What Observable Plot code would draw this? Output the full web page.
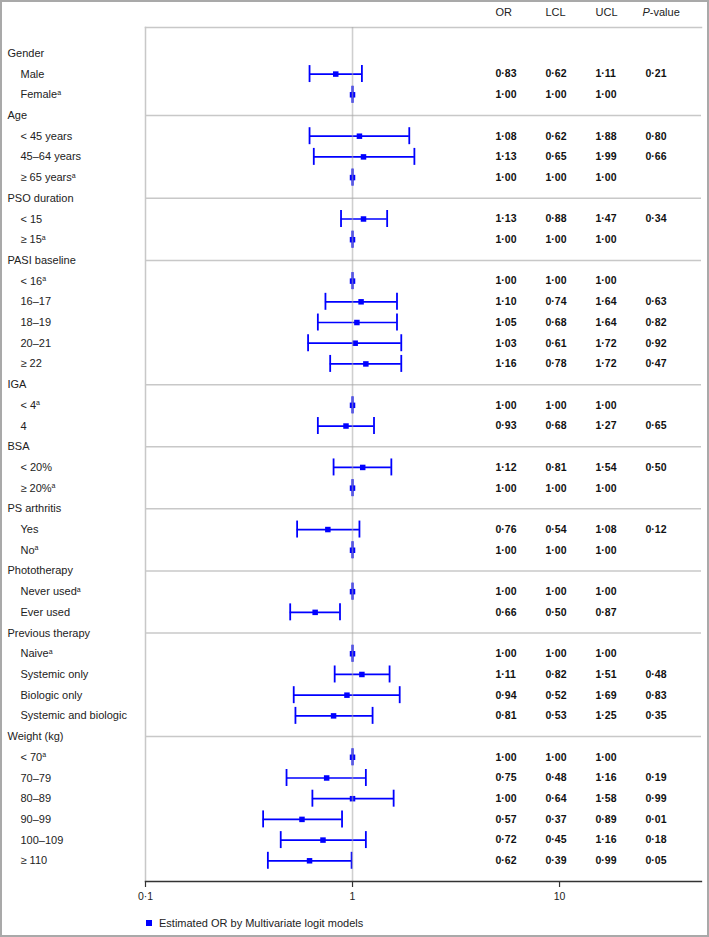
<!DOCTYPE html>
<html><head><meta charset="utf-8">
<script src="https://cdn.jsdelivr.net/npm/d3@7"></script>
<script src="https://cdn.jsdelivr.net/npm/@observablehq/plot@0.6"></script>
<style>
html,body{margin:0;padding:0;background:#fff;}
#page{position:relative;width:709px;height:937px;overflow:hidden;font-family:'Liberation Sans',Arial,sans-serif;background:#fff;}
#border{position:absolute;left:0;top:0;width:709px;height:937px;box-sizing:border-box;border:2px solid #a9a9a9;pointer-events:none;}
#legend{display:flex;align-items:center;height:14px;margin-top:4px;padding-left:146px;font-size:11px;color:#222;}
#legend .sw{display:inline-block;width:6px;height:6px;background:#0000ff;margin-right:7px;}
</style></head>
<body>
<div id="page">
  <div id="chart"></div>
  <div id="legend"><span class="sw"></span><span>Estimated OR by Multivariate logit models</span></div>
  <div id="border"></div>
</div>
<script>
// ---- data ----
const groups = ["Gender", "Age", "PSO duration", "PASI baseline", "IGA", "BSA",
  "PS arthritis", "Phototherapy", "Previous therapy", "Weight (kg)"];
const rowGroup = [0,0, 1,1,1, 2,2, 3,3,3,3,3, 4,4, 5,5, 6,6, 7,7, 8,8,8,8, 9,9,9,9,9,9];
const rowLabels = ["Male", "Female",
  "< 45 years", "45\u201364 years", "\u2265 65 years",
  "< 15", "\u2265 15",
  "< 16", "16\u201317", "18\u201319", "20\u201321", "\u2265 22",
  "< 4", "4",
  "< 20%", "\u2265 20%",
  "Yes", "No",
  "Never used", "Ever used",
  "Naive", "Systemic only", "Biologic only", "Systemic and biologic",
  "< 70", "70\u201379", "80\u201389", "90\u201399", "100\u2013109", "\u2265 110"];
const isReference = [false,true, false,false,true, false,true, true,false,false,false,false,
  true,false, false,true, false,true, true,false, true,false,false,false,
  true,false,false,false,false,false];
const orValues  = [0.83,1.00, 1.08,1.13,1.00, 1.13,1.00, 1.00,1.10,1.05,1.03,1.16, 1.00,0.93, 1.12,1.00, 0.76,1.00, 1.00,0.66, 1.00,1.11,0.94,0.81, 1.00,0.75,1.00,0.57,0.72,0.62];
const lclValues = [0.62,1.00, 0.62,0.65,1.00, 0.88,1.00, 1.00,0.74,0.68,0.61,0.78, 1.00,0.68, 0.81,1.00, 0.54,1.00, 1.00,0.50, 1.00,0.82,0.52,0.53, 1.00,0.48,0.64,0.37,0.45,0.39];
const uclValues = [1.11,1.00, 1.88,1.99,1.00, 1.47,1.00, 1.00,1.64,1.64,1.72,1.72, 1.00,1.27, 1.54,1.00, 1.08,1.00, 1.00,0.87, 1.00,1.51,1.69,1.25, 1.00,1.16,1.58,0.89,1.16,0.99];
const pValues   = [0.21,null, 0.80,0.66,null, 0.34,null, null,0.63,0.82,0.92,0.47, null,0.65, 0.50,null, 0.12,null, null,null, null,0.48,0.83,0.35, null,0.19,0.99,0.01,0.18,0.05];
const headers = ["OR", "LCL", "UCL", "P-value"];
const xTicks = [0.1, 1, 10];

// ---- build tables ----
const fmt = v => v == null ? "" : d3.format(".2f")(v).replace(".", "\u00b7");
const groupRows = [];
const items = [];
let row = 0, prev = -1;
rowGroup.forEach((g, i) => {
  if (g !== prev) { groupRows.push({row: row++, label: groups[g], g}); prev = g; }
  items.push({row: row++, label: rowLabels[i], ref: isReference[i],
    or: orValues[i], lcl: lclValues[i], ucl: uclValues[i], p: pValues[i]});
});
const lastRow = row; // axis position (in row units)

const blue = "#0000ff";
const SUP = "\u2060";
const colDx = [350, 400, 450, 500];

const chart = Plot.plot({
  width: 709,
  height: 912,
  marginLeft: 145,
  marginRight: 8,
  marginTop: 27,
  marginBottom: 31,
  style: {fontFamily: "'Liberation Sans', Arial, sans-serif", fontSize: "11px", color: "#222", background: "transparent", overflow: "visible"},
  x: {type: "log", domain: [0.1, 48.5]},
  y: {domain: [-1.25, lastRow], reverse: true, axis: null},
  marks: [
    Plot.frame({anchor: "top", stroke: "#c8c8c8", strokeWidth: 1.5}),
    Plot.frame({anchor: "left", stroke: "#c8c8c8", strokeWidth: 1.5}),
    Plot.ruleY(groupRows.slice(1), {y: "row", stroke: "#c8c8c8", strokeWidth: 1.5}),
    // confidence intervals
    Plot.ruleY(items, {y: "row", x1: "lcl", x2: "ucl", stroke: blue, strokeWidth: 1.7}),
    Plot.ruleX(items, {x: "lcl", y1: d => d.row - 0.41, y2: d => d.row + 0.41, stroke: blue, strokeWidth: 1.8}),
    Plot.ruleX(items, {x: "ucl", y1: d => d.row - 0.41, y2: d => d.row + 0.41, stroke: blue, strokeWidth: 1.8}),
    Plot.dot(items, {x: "or", y: "row", symbol: "square", r: 3.1, fill: blue, stroke: null}),
    // reference line at OR = 1
    Plot.ruleX([1], {stroke: "#a8a8a8", strokeWidth: 1.6, strokeOpacity: 0.55}),
    // left labels
    Plot.text(groupRows, {y: "row", text: "label", frameAnchor: "left", textAnchor: "start", dx: -138, fontSize: 11}),
    Plot.text(items, {y: "row", text: d => d.ref ? d.label + SUP : d.label, frameAnchor: "left", textAnchor: "start", dx: -125, fontSize: 11}),
    // table header
    ...headers.map((h, i) => Plot.text([h], {y: () => -2, text: d => d, frameAnchor: "left", textAnchor: "start", dx: colDx[i] - (i === 3 ? 3 : 0), fontSize: 11})),
    // table values
    Plot.text(items, {y: "row", text: d => fmt(d.or), frameAnchor: "left", textAnchor: "start", dx: colDx[0], fontWeight: "bold", fontSize: 10.5, fill: "#111"}),
    Plot.text(items, {y: "row", text: d => fmt(d.lcl), frameAnchor: "left", textAnchor: "start", dx: colDx[1], fontWeight: "bold", fontSize: 10.5, fill: "#111"}),
    Plot.text(items, {y: "row", text: d => fmt(d.ucl), frameAnchor: "left", textAnchor: "start", dx: colDx[2], fontWeight: "bold", fontSize: 10.5, fill: "#111"}),
    Plot.text(items.filter(d => d.p != null), {y: "row", text: d => fmt(d.p), frameAnchor: "left", textAnchor: "start", dx: colDx[3], fontWeight: "bold", fontSize: 10.5, fill: "#111"}),
    // x axis
    Plot.frame({anchor: "bottom", stroke: "#333", strokeWidth: 1.3}),
    Plot.axisX({ticks: xTicks, tickFormat: d => d === 0.1 ? "0\u00b71" : String(d), tickSize: 6, tickPadding: 5, fontSize: 10.5, label: null, stroke: "#333", strokeWidth: 1.2})
  ]
});
document.getElementById("chart").appendChild(chart);

// post-process: superscript "a" and italic P
chart.querySelectorAll("text").forEach(t => {
  const s = t.textContent;
  if (s.endsWith(SUP)) {
    t.textContent = s.slice(0, -1);
    const ts = document.createElementNS("http://www.w3.org/2000/svg", "tspan");
    ts.setAttribute("font-size", "7");
    ts.setAttribute("dy", "-3.5");
    ts.textContent = "a";
    t.appendChild(ts);
  } else if (s === "P-value") {
    t.textContent = "";
    const it = document.createElementNS("http://www.w3.org/2000/svg", "tspan");
    it.setAttribute("font-style", "italic");
    it.textContent = "P";
    t.appendChild(it);
    t.appendChild(document.createTextNode("-value"));
  }
});
</script>
</body></html>
